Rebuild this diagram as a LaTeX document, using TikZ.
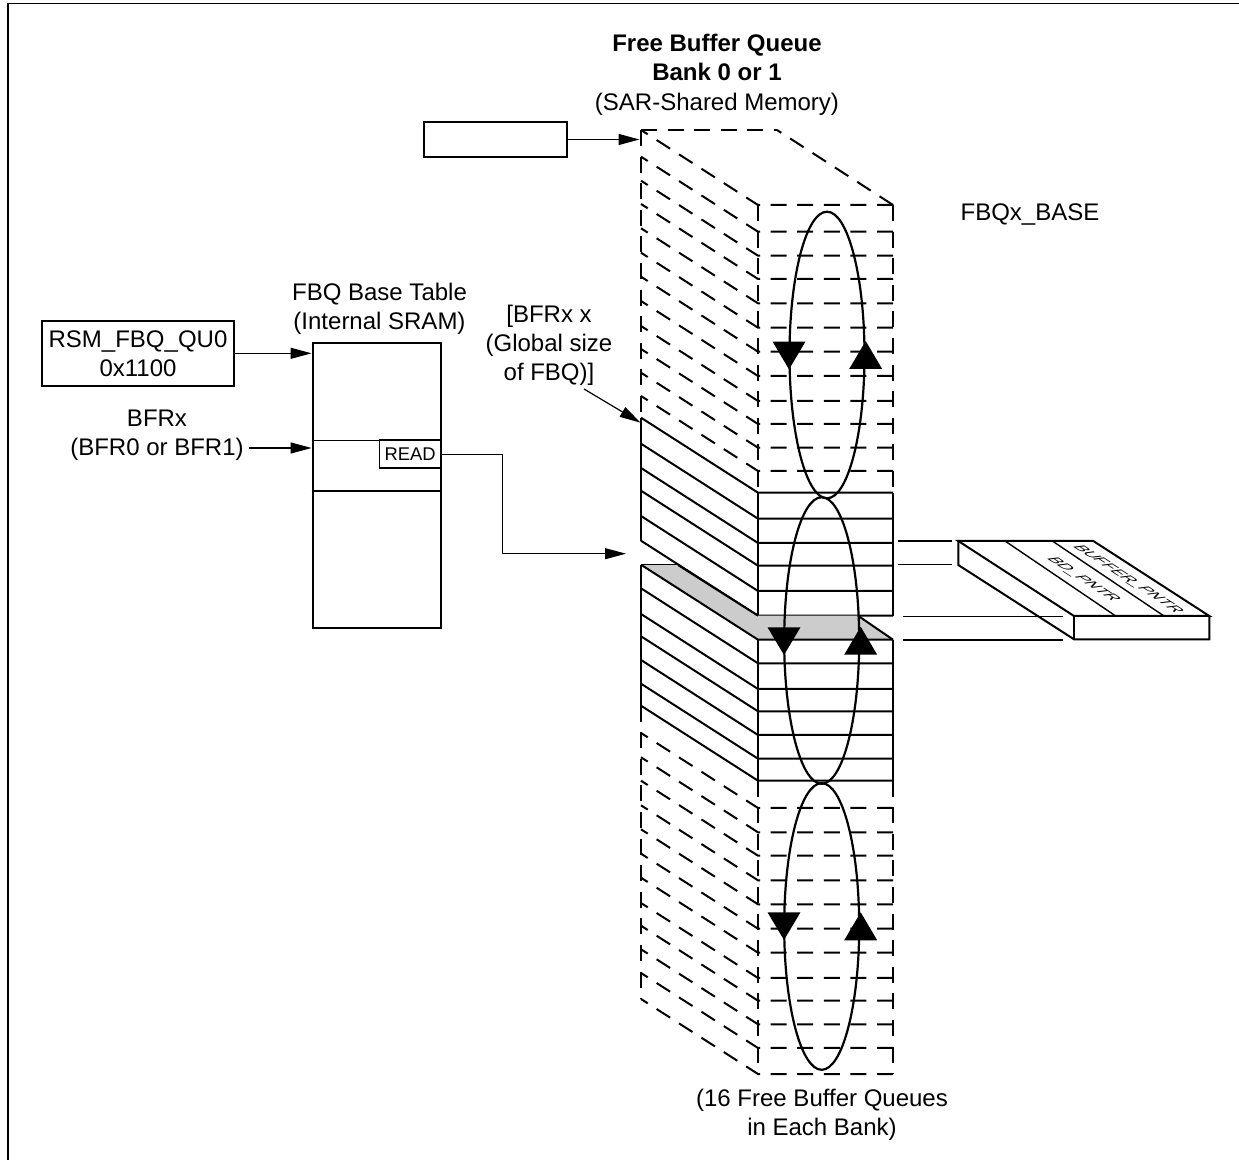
\documentclass[tikz,border=0pt]{standalone}
\usepackage{fontspec}
\setmainfont{Liberation Sans}
\usetikzlibrary{arrows.meta,positioning}
\definecolor{softgray}{HTML}{CCCCCC}
\tikzset{
  labeltext/.style={
    align=center,
    inner sep=0pt,
    font=\fontsize{12}{14.5}\selectfont
  },
  regbox/.style={
    draw=black,
    line width=1.05pt,
    align=center,
    inner sep=0pt,
    font=\fontsize{12}{14.5}\selectfont
  },
  thinflow/.style={-{Triangle[length=10.5pt,width=5.5pt]},line width=0.6pt,draw=black},
  solidedge/.style={line width=1pt,draw=black},
  dashededge/.style={line width=1pt,draw=black,dash pattern=on 8pt off 5.3pt},
  looppath/.style={line width=1.1pt,draw=black},
  slabtext/.style={
    inner sep=0pt,
    cm={0.84,-0.545,0.95,0.12,(0,0)},
    font=\fontsize{8.4}{10}\selectfont
  }
}

\begin{document}
\begin{tikzpicture}[x=0.5pt,y=-0.5pt]
    \useasboundingbox (0,0) rectangle (1239,1160);
    \draw[line width=0.7pt] (8,1160) -- (8,3.5) -- (1239,3.5);

    % titles
    \node[labeltext] (bankname) at (717,57) {
      \textbf{Free Buffer Queue}\\
      \textbf{Bank 0 or 1}};
    \node[labeltext] (bankmem) at (717,104) {(SAR-Shared Memory)};
    \node[labeltext] (basename) at (1030,215) {FBQx\_BASE};
    \node[labeltext] (bankcount) at (822,1115) {
      (16 Free Buffer Queues\\
      in Each Bank)};

    % base table
    \node[regbox,minimum width=96pt,minimum height=32.5pt] (rsm) at (138,353.3) {
      RSM\_FBQ\_QU0\\
      0x1100};
    \node[regbox,minimum width=71.5pt,minimum height=17.5pt] (basereg) at (495.5,139.5) {};
    \node[labeltext] (tablename) at (379.5,308.5) {
      FBQ Base Table\\
      (Internal SRAM)};
    \node[regbox,minimum width=64.2pt,minimum height=142.8pt] (fbqtable) at (376.8,485.5) {};
    \node[labeltext] (bfrx) at (157,435.5) {
      BFRx\\
      (BFR0 or BFR1)};
    \node[regbox,line width=0.7pt,minimum width=30.8pt,minimum height=14pt,
      font=\fontsize{9.2}{11}\selectfont] (readcell) at (410.2,454.2) {READ};
    \node[labeltext] (sizelabel) at (549,345.5) {
      [BFRx x\\
      (Global size\\
      of FBQ)]};

    \draw[line width=0.7pt] (fbqtable.west |- 0,440.3) -- (fbqtable.east |- 0,440.3);
    \draw[line width=0.7pt] (fbqtable.west |- 0,491) -- (fbqtable.east |- 0,491);

    % upper stack
    \foreach \y in {231.7,255.7,279,303.3,327.7,351.7,376,401,424,447.7,471} {
      \draw[dashededge] (893,\y) -- (758,\y) -- (641,\y-75);
    }
    \draw[dashededge] (641,130) -- (777,130);
    \draw[dashededge] (893,205) -- (777,130);
    \draw[dashededge] (893,205) -- (758,205) -- (641,130);
    \draw[dashededge] (641,130) -- (641,418);
    \draw[dashededge] (758,205) -- (758,492.7);
    \draw[dashededge] (893,205) -- (893,492.7);

    % solid block, upper part
    \foreach \y in {492.7,518.7,543,565.7,591,615.7} {
      \draw[solidedge] (893,\y) -- (758,\y) -- (641,\y-75);
    }
    \draw[solidedge] (641,417.7) -- (641,540.7);
    \draw[solidedge] (758,492.7) -- (758,615.7);
    \draw[solidedge] (893,492.7) -- (893,615.7);

    % solid block, lower part
    \fill[softgray] (641,565) -- (678,565) -- (758,615.7) -- (858,615.7)
      -- (893,639.7) -- (758,639.7) -- cycle;
    \draw[line width=0.5pt] (641,565) -- (678,565);
    \draw[solidedge] (678,565) -- (758,615.7);
    \draw[solidedge] (858,615.7) -- (893,639.7);
    \foreach \y in {639.7,663.3,689,711.3,735,758.7,780.7} {
      \draw[solidedge] (893,\y) -- (758,\y) -- (641,\y-75);
    }
    \draw[solidedge] (641,564.7) -- (641,705.7);
    \draw[solidedge] (758,639.7) -- (758,780.7);
    \draw[solidedge] (893,639.7) -- (893,780.7);

    % lower stack
    \foreach \y in {808,832.3,855.7,880.3,904.3,928.7,952.7,978,1000.7,1024.3,1048,1074} {
      \draw[dashededge] (893,\y) -- (758,\y) -- (641,\y-75);
    }
    \draw[dashededge] (641,705.7) -- (641,999);
    \draw[dashededge] (758,780.7) -- (758,1074);
    \draw[dashededge] (893,780.7) -- (893,1074);

    % loops
    \foreach \cx/\cy/\downx/\downy/\upx/\upy in {
      827/355/789/369.3/865.7/341,
      821.7/640.5/784/655/860.7/626.7,
      821.7/926.5/784/940/860.7/912.3} {
      \draw[looppath] (\cx,\cy) ellipse [x radius=37.5,y radius=143.3];
      \fill (\downx-16.5,\downy-27.7) -- (\downx+16.5,\downy-27.7) -- (\downx,\downy) -- cycle;
      \fill (\upx-16.5,\upy+28) -- (\upx+16.5,\upy+28) -- (\upx,\upy) -- cycle;
    }

    % entry structure
    \coordinate (slabnw) at (958.3,541);
    \coordinate (slabne) at (1093.3,541);
    \coordinate (slabse) at (1209.3,616);
    \coordinate (slabsw) at (1074,616);
    \draw[solidedge] (slabnw) -- (slabne) -- (slabse) -- (slabsw) -- cycle;
    \draw[solidedge] (slabnw) -- (958.3,565) -- (1074,639.3) -- (1209.3,639.3) -- (slabse);
    \draw[solidedge] (slabsw) -- (1074,639.3);
    \draw[line width=0.7pt] (1005,541) -- (1115.7,616);
    \draw[line width=0.7pt] (1052.3,541) -- (1164,616);
    \node[slabtext] (bdptr) at (1083,579.5) {BD\_PNTR};
    \node[slabtext] (bufptr) at (1127.5,579) {BUFFER\_PNTR};
    \draw[line width=0.7pt] (897.7,541) -- (951.7,541);
    \draw[line width=0.7pt] (897.7,564.5) -- (951.7,564.5);
    \draw[line width=0.7pt] (902.7,616.7) -- (1063.3,616.7);
    \draw[line width=0.7pt] (902.7,640) -- (1063.3,640);

    % arrows
    \coordinate (stacktop) at (639.5,139.5);
    \coordinate (stacksize) at (640.5,422.7);
    \coordinate (stackread) at (626,553.7);
    \coordinate (sizestart) at (584,389);
    \draw[thinflow] (basereg.east) -- (stacktop);
    \draw[thinflow] (rsm.east) -- (rsm.east -| fbqtable.west);
    \draw[thinflow] (bfrx.east |- 0,448) ++(4.7,0) -- (fbqtable.west |- 0,448);
    \draw[thinflow] (sizestart) -- (stacksize);
    \draw[thinflow] (readcell.east) -- (502.7,454.2) -- (502.7,553.7) -- (stackread);
\end{tikzpicture}
\end{document}
